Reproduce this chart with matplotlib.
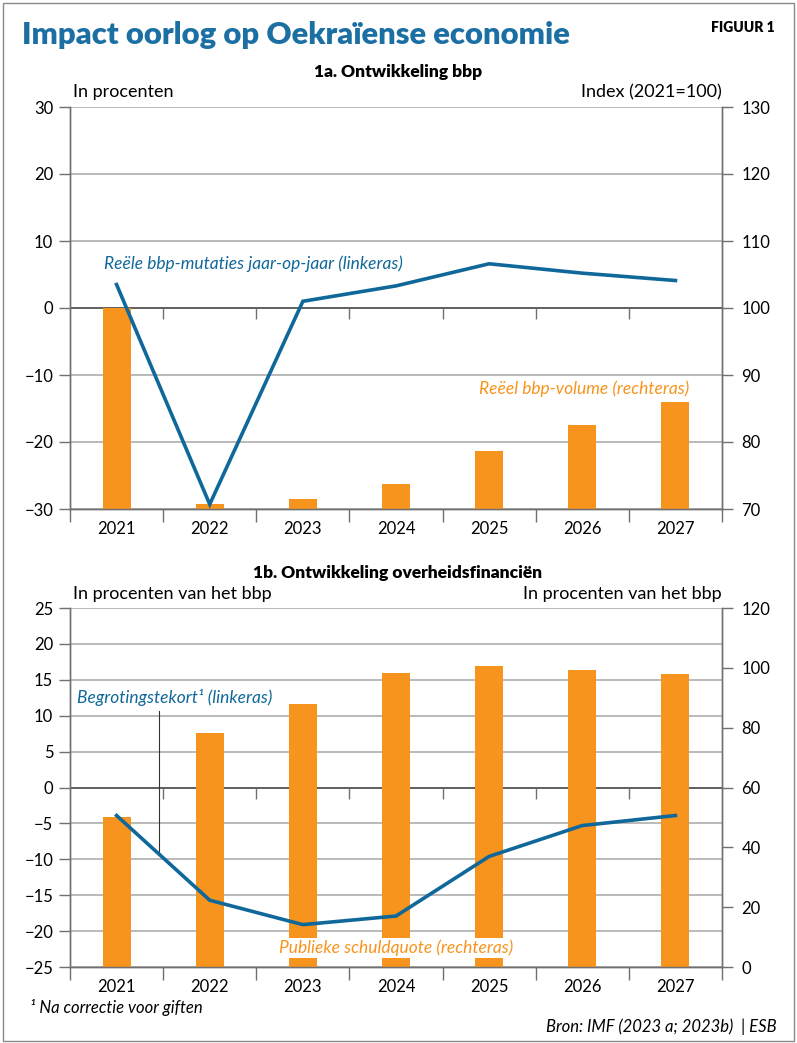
import matplotlib.pyplot as plt
import matplotlib.patches as mpatches
import numpy as np

plt.rcParams['font.family'] = ['Lato', 'DejaVu Sans']

# data
years = ['2021', '2022', '2023', '2024', '2025', '2026', '2027']
groei = [3.5, -29.3, 1.0, 3.3, 6.6, 5.2, 4.1]            # linkeras, procenten
bbp_volume = [100, 70.8, 71.5, 73.8, 78.6, 82.6, 85.9]    # rechteras, index 2021=100
tekort = [-3.9, -15.7, -19.1, -17.9, -9.6, -5.3, -3.9]    # linkeras, % bbp
schuld = [50.3, 78.2, 87.9, 98.2, 100.5, 99.3, 98.1]      # rechteras, % bbp

ORANGE = '#f7941d'
BLUE = '#10689a'
TITLE_BLUE = '#1b6fa3'
GRID = '#b4b4b4'
AXC = '#707070'

W, H = 797, 1043
fig = plt.figure(figsize=(W / 100, H / 100), dpi=100)


def px(x, y):
    return x / W, 1 - y / H


def setup(rect, ylim, yticks, y2lim, y2ticks):
    ax = fig.add_axes(rect)
    ax2 = ax.twinx()
    x = np.arange(len(years))
    ax.set_xlim(-0.5, len(years) - 0.5)
    ax.set_ylim(*ylim)
    ax2.set_ylim(*y2lim)
    ax.set_yticks(yticks)
    ax2.set_yticks(y2ticks)
    ax.set_yticklabels([str(t).replace('-', '\u2212') for t in yticks])
    ax.set_xticks(x)
    ax.set_xticklabels(years)
    ax.set_xticks(np.arange(len(years) + 1) - 0.5, minor=True)
    ax.tick_params(axis='x', which='major', length=0, pad=9, labelsize=12)
    ax.tick_params(axis='x', which='minor', length=9, color=AXC, width=1)
    ax.tick_params(axis='y', length=8, color=AXC, width=1, pad=4, labelsize=12)
    ax2.tick_params(axis='y', length=8, color=AXC, width=1, pad=6, labelsize=12)
    ax.grid(axis='y', color=GRID, lw=1.3)
    ax.set_axisbelow(True)
    ax.axhline(0, color='#5a5a5a', lw=1.3, zorder=1)
    # tickjes op de nullijn
    ax.plot(np.arange(1, len(years)) - 0.5, np.zeros(len(years) - 1), ls='none',
            marker=3, markersize=8, color=AXC, mew=1)
    for a in (ax, ax2):
        a.spines['top'].set_visible(False)
        for s in ('left', 'right', 'bottom'):
            a.spines[s].set_color(AXC)
            a.spines[s].set_linewidth(1)
    return ax, ax2, x


# 1a
ax, ax2, x = setup([70 / W, 1 - 509 / H, 652 / W, 402 / H],
                   (-30, 30), list(range(-30, 31, 10)),
                   (70, 130), list(range(70, 131, 10)))
ax2.bar(x, bbp_volume, width=0.3, color=ORANGE, zorder=2)
ax2.plot(x, groei, color=BLUE, lw=2.6, transform=ax.transData, zorder=3,
         solid_joinstyle='miter')
ax2.text(-0.13, 6.6, 'Reële bbp-mutaties jaar-op-jaar (linkeras)', transform=ax.transData,
         color=BLUE, fontsize=12.5, style='italic', va='center', ha='left')
ax2.text(6.15, -12.1, 'Reëel bbp-volume (rechteras)', transform=ax.transData,
         color=ORANGE, fontsize=12.5, style='italic', va='center', ha='right')

# 1b
bx, bx2, x = setup([70 / W, 1 - 967 / H, 652 / W, 359 / H],
                   (-25, 25), list(range(-25, 26, 5)),
                   (0, 120), list(range(0, 121, 20)))
bx2.bar(x, schuld, width=0.3, color=ORANGE, zorder=2)
bx2.plot(x, tekort, color=BLUE, lw=2.6, transform=bx.transData, zorder=3,
         solid_joinstyle='miter')
xa = 0.46
bx2.plot([xa, xa], [10.7, np.interp(xa, x, tekort)], color='#333333', lw=0.8,
         transform=bx.transData, zorder=2.5)
bx2.text(-0.42, 12.6, 'Begrotingstekort¹ (linkeras)', transform=bx.transData,
         color=BLUE, fontsize=12.5, style='italic', va='center', ha='left')
bx2.text(3.0, -22.35, 'Publieke schuldquote (rechteras)', transform=bx.transData,
         color=ORANGE, fontsize=12.5, style='italic', va='center', ha='center', zorder=4,
         bbox=dict(facecolor='white', edgecolor='none', pad=1))

# teksten
fig.text(*px(22, 35), 'Impact oorlog op Oekraïense economie', color=TITLE_BLUE,
         fontsize=22.3, fontweight='heavy', va='center', ha='left')
fig.text(*px(775, 28), 'FIGUUR 1', fontsize=10, fontweight='heavy', va='center', ha='right')
fig.text(*px(398, 72), '1a. Ontwikkeling bbp', fontsize=12.5, fontweight='heavy',
         va='center', ha='center')
fig.text(*px(73, 92), 'In procenten', fontsize=13, va='center', ha='left')
fig.text(*px(722, 92), 'Index (2021=100)', fontsize=13, va='center', ha='right')
fig.text(*px(398, 573), '1b. Ontwikkeling overheidsfinanciën', fontsize=12.5,
         fontweight='heavy', va='center', ha='center')
fig.text(*px(73, 594), 'In procenten van het bbp', fontsize=13, va='center', ha='left')
fig.text(*px(722, 594), 'In procenten van het bbp', fontsize=13, va='center', ha='right')
fig.text(*px(30, 1008), '¹ Na correctie voor giften', fontsize=12, style='italic',
         va='center', ha='left')
fig.text(*px(777, 1027), 'Bron: IMF (2023 a; 2023b)  | ESB', fontsize=12, style='italic',
         va='center', ha='right')

# kader
fig.patches.append(mpatches.Rectangle((0.004, 0.002), 0.992, 0.995, transform=fig.transFigure,
                                      fill=False, edgecolor='#8a8a8a', lw=1))

fig.savefig('out.png', dpi=100)
